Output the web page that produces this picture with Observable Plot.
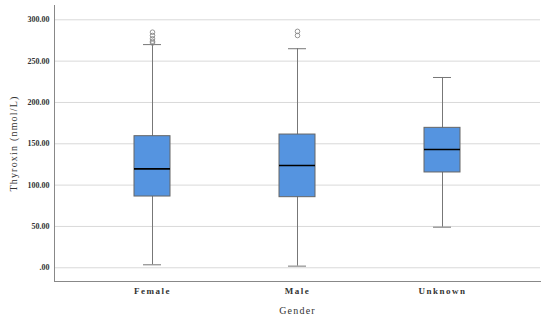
<!DOCTYPE html>
<html>
<head>
<meta charset="utf-8">
<script src="https://cdn.jsdelivr.net/npm/d3@7"></script>
<script src="https://cdn.jsdelivr.net/npm/@observablehq/plot@0.6"></script>
<style>
  html, body { margin: 0; padding: 0; background: #fff; }
  svg { display: block; }
</style>
</head>
<body>
<div id="chart"></div>
<script>
// Data
const categories = ["Female", "Male", "Unknown"];
const whiskerLow = [3.6, 2.0, 49.1];
const q1 = [86.2, 85.4, 115.3];
const median = [119.7, 123.7, 143.1];
const q3 = [159.2, 161.2, 169.3];
const whiskerHigh = [270, 265, 230.2];
const outlierCategory = ["Female", "Female", "Female", "Female", "Female", "Male", "Male"];
const outlierValue = [272, 274, 277, 281, 285, 281, 286];
const yTicks = [0, 50, 100, 150, 200, 250, 300];

const stats = categories.map((c, i) => ({
  g: c, lo: whiskerLow[i], q1: q1[i], med: median[i], q3: q3[i], hi: whiskerHigh[i]
}));
const outliers = outlierCategory.map((c, i) => ({ g: c, v: outlierValue[i] }));

const font = "'Liberation Serif', serif";

const chart = Plot.plot({
  width: 550,
  height: 321,
  marginLeft: 54,
  marginRight: 10,
  marginTop: 5,
  marginBottom: 40,
  style: { fontFamily: font, background: "#fff" },
  x: { domain: categories, paddingInner: 0.75, paddingOuter: 0.5395 },
  y: { domain: [-16.6, 317.3] },
  marks: [
    Plot.ruleY(yTicks, { stroke: "#d9d9d9", strokeWidth: 1 }),
    Plot.ruleX(stats, { x: "g", y1: "lo", y2: "hi", stroke: "#777", strokeWidth: 1 }),
    Plot.tickY(stats, { x: "g", y: "lo", stroke: "#777", inset: 9 }),
    Plot.tickY(stats, { x: "g", y: "hi", stroke: "#777", inset: 9 }),
    Plot.barY(stats, { x: "g", y1: "q1", y2: "q3", fill: "#5594e0", stroke: "#666", strokeWidth: 1 }),
    Plot.tickY(stats, { x: "g", y: "med", stroke: "#000", strokeWidth: 1.6 }),
    Plot.dot(outliers, { x: "g", y: "v", r: 2.3, stroke: "#888", fill: "none", strokeWidth: 0.9 }),
    Plot.frame({ anchor: "left", stroke: "#888" }),
    Plot.frame({ anchor: "bottom", stroke: "#888" }),
    Plot.axisY(yTicks, {
      tickSize: 0, tickPadding: 5,
      tickFormat: d => d === 0 ? ".00" : d.toFixed(2),
      fontSize: 8, fontWeight: "bold", fill: "#333",
      label: "Thyroxin (nmol/L)", labelAnchor: "center", labelOffset: 45, labelArrow: "none"
    }),
    Plot.axisX({
      tickSize: 0, tickPadding: 6,
      fontSize: 9, fontWeight: "bold", fill: "#333",
      label: "Gender", labelAnchor: "center", labelOffset: 32, labelArrow: "none"
    })
  ]
});

d3.select(chart).selectAll("[aria-label='y-axis label'] text, [aria-label='x-axis label'] text")
  .style("font-size", "10px").style("font-weight", "normal").style("letter-spacing", "1.2px").attr("fill", "#333");
d3.select(chart).selectAll("[aria-label='x-axis tick label'] text").style("letter-spacing", "1.5px");

document.getElementById("chart").appendChild(chart);
</script>
</body>
</html>
